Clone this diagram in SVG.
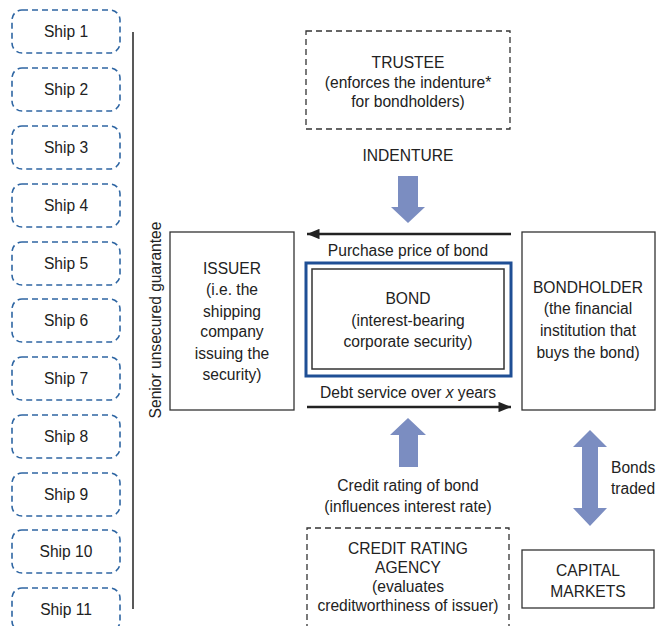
<svg xmlns="http://www.w3.org/2000/svg" width="660" height="626" viewBox="0 0 660 626">
<style>
text{font-family:"Liberation Sans",Arial,sans-serif;font-size:15.6px;fill:#222;text-anchor:middle;dominant-baseline:central}
.ship{fill:none;stroke:#2f66a3;stroke-width:1.6;stroke-dasharray:6 4}
.dash{fill:none;stroke:#333;stroke-width:1.3;stroke-dasharray:6 4}
.box{fill:#fff;stroke:#333;stroke-width:1.3}
.blk{stroke:#222;stroke-width:2.6;fill:none}
.fat{fill:#7b8dc1}
</style>
<defs>
<marker id="ah" viewBox="0 0 12 10" refX="12" refY="5" markerWidth="6" markerHeight="4" orient="auto" markerUnits="strokeWidth">
<path d="M0,0 L12,5 L0,10 Z" fill="#222"/>
</marker>
</defs>
<g id="ship1"><rect class="ship" x="12" y="10" width="108" height="43" rx="10"/><text x="66" y="31.5">Ship 1</text></g>
<g id="ship2"><rect class="ship" x="12" y="68" width="108" height="43" rx="10"/><text x="66" y="89.5">Ship 2</text></g>
<g id="ship3"><rect class="ship" x="12" y="126" width="108" height="43" rx="10"/><text x="66" y="147.5">Ship 3</text></g>
<g id="ship4"><rect class="ship" x="12" y="184" width="108" height="43" rx="10"/><text x="66" y="205.5">Ship 4</text></g>
<g id="ship5"><rect class="ship" x="12" y="242" width="108" height="43" rx="10"/><text x="66" y="263.5">Ship 5</text></g>
<g id="ship6"><rect class="ship" x="12" y="299" width="108" height="43" rx="10"/><text x="66" y="320.5">Ship 6</text></g>
<g id="ship7"><rect class="ship" x="12" y="357" width="108" height="43" rx="10"/><text x="66" y="378.5">Ship 7</text></g>
<g id="ship8"><rect class="ship" x="12" y="415" width="108" height="43" rx="10"/><text x="66" y="436.5">Ship 8</text></g>
<g id="ship9"><rect class="ship" x="12" y="473" width="108" height="43" rx="10"/><text x="66" y="494.5">Ship 9</text></g>
<g id="ship10"><rect class="ship" x="12" y="530" width="108" height="43" rx="10"/><text x="66" y="551.5">Ship 10</text></g>
<g id="ship11"><rect class="ship" x="12" y="588" width="108" height="43" rx="10"/><text x="66" y="609.5">Ship 11</text></g>

<g id="guarantee">
<line x1="133" y1="32" x2="133" y2="609" stroke="#222" stroke-width="1.5"/>
<text transform="translate(155,320) rotate(-90)">Senior unsecured guarantee</text>
</g>

<g id="trustee">
<rect class="dash" x="306" y="31" width="204" height="98"/>
<text x="408" y="62">TRUSTEE</text>
<text x="408" y="82">(enforces the indenture*</text>
<text x="408" y="101">for bondholders)</text>
</g>

<g id="issuer">
<rect class="box" x="170" y="232" width="124" height="178"/>
<text x="232" y="268">ISSUER</text>
<text x="232" y="289">(i.e. the</text>
<text x="232" y="311">shipping</text>
<text x="232" y="331">company</text>
<text x="232" y="353">issuing the</text>
<text x="232" y="374">security)</text>
</g>

<g id="bond">
<rect x="306" y="263" width="205" height="113" fill="#fff" stroke="#1f4f95" stroke-width="3"/>
<rect x="312" y="269" width="192" height="100" fill="none" stroke="#333" stroke-width="1.5"/>
<text x="408" y="298">BOND</text>
<text x="408" y="320">(interest-bearing</text>
<text x="408" y="341">corporate security)</text>
</g>

<g id="bondholder">
<rect class="box" x="522" y="232" width="133" height="178"/>
<text x="588" y="287">BONDHOLDER</text>
<text x="588" y="308">(the financial</text>
<text x="588" y="330">institution that</text>
<text x="588" y="352">buys the bond)</text>
</g>

<g id="rating">
<path class="dash" d="M307,640 L307,528 L509,528 L509,640"/>
<text x="408" y="548">CREDIT RATING</text>
<text x="408" y="567">AGENCY</text>
<text x="408" y="586">(evaluates</text>
<text x="408" y="605">creditworthiness of issuer)</text>
</g>

<g id="capital">
<rect class="box" x="522" y="550" width="132" height="58"/>
<text x="588" y="570">CAPITAL</text>
<text x="588" y="591">MARKETS</text>
</g>

<g id="connectors">
<text x="408" y="155">INDENTURE</text>
<path class="fat" d="M398,176 L418,176 L418,207 L425,207 L408,223 L391,207 L398,207 Z"/>
<line class="blk" x1="511" y1="234" x2="307" y2="234" marker-end="url(#ah)"/>
<text x="408" y="250">Purchase price of bond</text>
<text x="408" y="392">Debt service over <tspan font-style="italic">x</tspan> years</text>
<line class="blk" x1="307" y1="407" x2="511" y2="407" marker-end="url(#ah)"/>
<path class="fat" d="M399,467 L418,467 L418,435 L426,435 L408,418 L390,435 L399,435 Z"/>
<text x="408" y="485">Credit rating of bond</text>
<text x="408" y="506">(influences interest rate)</text>
<path class="fat" d="M590,430 L607,447 L598,447 L598,508 L607,508 L590,526 L573,508 L582,508 L582,447 L573,447 Z"/>
<text x="611" y="467" style="text-anchor:start">Bonds</text>
<text x="611" y="488" style="text-anchor:start">traded</text>
</g>
</svg>
